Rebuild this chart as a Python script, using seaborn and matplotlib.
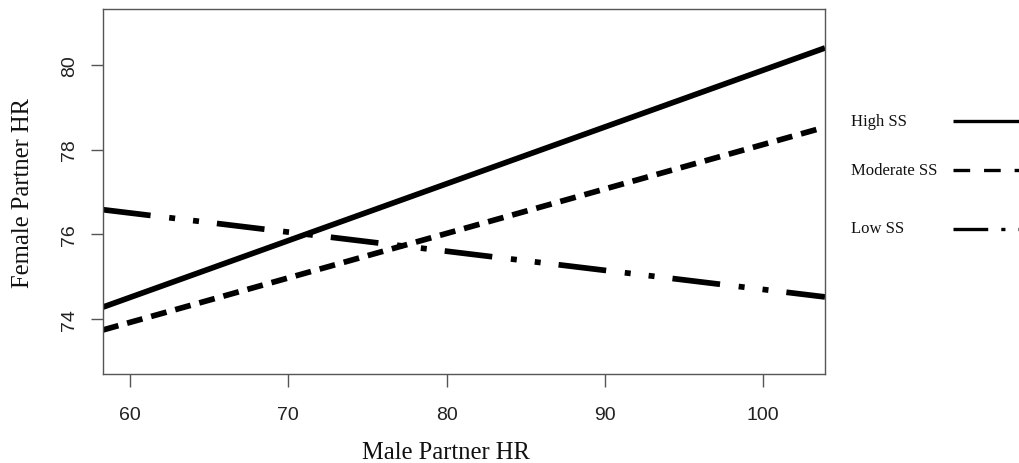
import matplotlib
matplotlib.use("Agg")
import matplotlib.pyplot as plt
from matplotlib.lines import Line2D
import seaborn as sns
import pandas as pd

# ---- data ----
groups = ["High SS", "Moderate SS", "Low SS"]
male_hr = [58.3, 103.9]
high_ss = [74.28, 80.40]
moderate_ss = [73.74, 78.53]
low_ss = [76.58, 74.52]
x_ticks = [60, 70, 80, 90, 100]
y_ticks = [74, 76, 78, 80]

sns.set_theme(style="white")
plt.rcParams["lines.scale_dashes"] = False
plt.rcParams["font.family"] = ["Liberation Sans", "DejaVu Sans"]

df = pd.DataFrame({
    "Male Partner HR": male_hr * 3,
    "Female Partner HR": high_ss + moderate_ss + low_ss,
    "group": [g for g in groups for _ in male_hr],
})

dash_map = {
    "High SS": "",
    "Moderate SS": (11.5, 6.5),
    "Low SS": (34.5, 13.5, 4.3, 13.0, 4.3, 13.0),
}

fig = plt.figure(figsize=(10.2, 4.64), dpi=100)
ax = fig.add_axes([103 / 1020, 1 - 375 / 464, (825 - 103) / 1020, (375 - 10) / 464])

sns.lineplot(data=df, x="Male Partner HR", y="Female Partner HR", style="group",
             dashes=dash_map, color="black", lw=4.1, ax=ax, legend=False,
             estimator=None, sort=False)
for ln in ax.get_lines():
    ln.set_dash_capstyle("butt")
    ln.set_solid_capstyle("butt")

ax.set_xlim(58.3, 103.9)
ax.set_ylim(72.7, 81.32)
ax.set_xticks(x_ticks)
ax.set_yticks(y_ticks)
ax.set_xticklabels([str(v) for v in x_ticks], fontsize=14, color="#222222")
ax.set_yticklabels([str(v) for v in y_ticks], fontsize=14, color="#222222",
                   rotation=90, va="center")
ax.tick_params(axis="both", direction="out", length=9, width=1, color="#555555",
               bottom=True, left=True)
ax.tick_params(axis="x", pad=14)
ax.tick_params(axis="y", pad=9)
for s in ax.spines.values():
    s.set_visible(True)
    s.set_color("#555555")
    s.set_linewidth(1)

serif = ["Liberation Serif", "DejaVu Serif"]
ax.set_xlabel("Male Partner HR", family=serif, fontsize=17.7, color="#111111")
ax.set_ylabel("Female Partner HR", family=serif, fontsize=17.7, color="#111111")
ax.xaxis.label.set_va("center")
ax.yaxis.label.set_va("center")
ax.xaxis.set_label_coords((446 - 103) / 722, (375 - 453) / 365)
ax.yaxis.set_label_coords((23 - 103) / 722, 0.5)

# ---- legend (outside, right) ----
leg_dash = {
    "High SS": None,
    "Moderate SS": (12, 10),
    "Low SS": (25, 9.4, 3, 9.4, 3, 9.4),
}
leg_y = [121.5, 171, 229.5]
for g, yp in zip(groups, leg_y):
    yf = 1 - yp / 464
    fig.text(851 / 1020, yf, g, family=serif, fontsize=12, va="center", ha="left",
             color="#111111")
    ln = Line2D([953 / 1020, 1080 / 1020], [yf, yf], transform=fig.transFigure,
                color="black", lw=2.4, solid_capstyle="butt", dash_capstyle="butt")
    if leg_dash[g] is not None:
        ln.set_dashes(leg_dash[g])
    fig.add_artist(ln)

fig.savefig("out.png", dpi=100)
